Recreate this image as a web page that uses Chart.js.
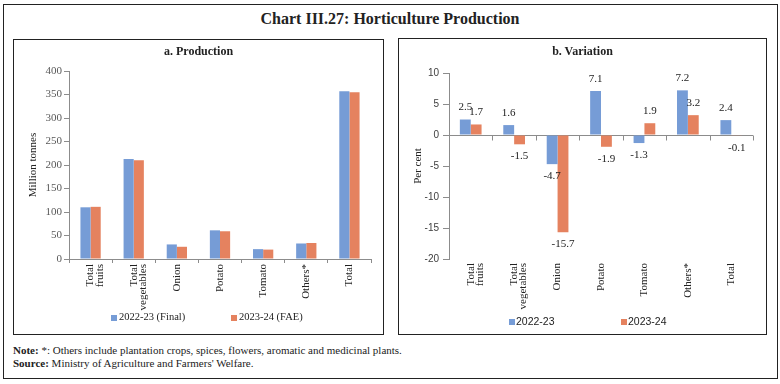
<!DOCTYPE html>
<html><head><meta charset="utf-8">
<script src="https://cdn.jsdelivr.net/npm/chart.js@4/dist/chart.umd.min.js"></script>
<style>
html,body{margin:0;padding:0;background:#fff;}
#wrap{position:relative;width:780px;height:384px;overflow:hidden;font-family:"Liberation Serif",serif;color:#222;}
.box{position:absolute;border:1px solid #222;box-sizing:border-box;}
.abs{position:absolute;white-space:nowrap;}
.sq{position:absolute;width:6px;height:6px;}
canvas{position:absolute;}
</style></head>
<body>
<div id="wrap">
  <div class="box" style="left:3px;top:4px;width:775px;height:375px;"></div>
  <div class="abs" style="left:0;width:780px;top:10px;text-align:center;font-weight:bold;font-size:16px;">Chart III.27: Horticulture Production</div>
  <div class="box" style="left:13px;top:39px;width:371px;height:296px;"></div>
  <div class="box" style="left:398px;top:38px;width:369px;height:297px;"></div>
  <canvas id="c1" width="371" height="296" style="left:13px;top:39px;"></canvas>
  <canvas id="c2" width="369" height="297" style="left:398px;top:38px;"></canvas>
  <div class="abs" style="left:13px;width:371px;top:44px;text-align:center;font-weight:bold;font-size:12px;">a. Production</div>
  <div class="abs" style="left:398px;width:369px;top:44px;text-align:center;font-weight:bold;font-size:12px;">b. Variation</div>

  <div class="sq" style="left:111px;top:315px;background:#769CD6;"></div>
  <div class="abs" style="left:119px;top:311px;font-size:10.5px;">2022-23 (Final)</div>
  <div class="sq" style="left:231px;top:315px;background:#E5825F;"></div>
  <div class="abs" style="left:239px;top:311px;font-size:10.5px;">2023-24 (FAE)</div>

  <div class="sq" style="left:509px;top:319px;background:#769CD6;"></div>
  <div class="abs" style="left:516px;top:315px;font-size:10.5px;font-family:'Liberation Sans',sans-serif;">2022-23</div>
  <div class="sq" style="left:621px;top:319px;background:#E5825F;"></div>
  <div class="abs" style="left:628px;top:315px;font-size:10.5px;font-family:'Liberation Sans',sans-serif;">2023-24</div>

  <div class="abs" style="left:13px;top:344px;font-size:11px;"><b>Note:</b> *: Others include plantation crops, spices, flowers, aromatic and medicinal plants.</div>
  <div class="abs" style="left:13px;top:357px;font-size:11px;"><b>Source:</b> Ministry of Agriculture and Farmers' Welfare.</div>
</div>
<script>
const categories = [['Total','fruits'],['Total','vegetables'],'Onion','Potato','Tomato','Others*','Total'];
const production2223 = [110, 213, 31, 61, 21, 33, 357];
const production2324 = [111, 210, 26, 59, 20, 34, 355];
const variation2223 = [2.5, 1.6, -4.7, 7.1, -1.3, 7.2, 2.4];
const variation2324 = [1.7, -1.5, -15.7, -1.9, 1.9, 3.2, -0.1];
const seriesNames = ['2022-23', '2023-24'];

const BLUE = '#769CD6', ORANGE = '#E5825F', AXIS = '#8c8c8c';
const serif = 'Liberation Serif';

const xTickFont = {family: serif, size: 11, lineHeight: 0.86};

new Chart(document.getElementById('c1'), {
  type: 'bar',
  data: {
    labels: categories,
    datasets: [
      {label: seriesNames[0] + ' (Final)', data: production2223, backgroundColor: BLUE},
      {label: seriesNames[1] + ' (FAE)', data: production2324, backgroundColor: ORANGE}
    ]
  },
  options: {
    responsive: false, animation: false,
    categoryPercentage: 0.47, barPercentage: 1,
    layout: {padding: {left: 0, top: 32, right: 13, bottom: 0}},
    plugins: {legend: {display: false}, tooltip: {enabled: false}},
    scales: {
      x: {
        border: {display: true, color: AXIS},
        grid: {drawOnChartArea: false, drawTicks: true, tickLength: 4, color: AXIS},
        ticks: {minRotation: 90, maxRotation: 90, autoSkip: false, padding: 1, color: '#222', font: xTickFont},
        afterFit: s => { s.height = 76; }
      },
      y: {
        min: 0, max: 400,
        border: {display: true, color: AXIS},
        grid: {drawOnChartArea: false, drawTicks: true, tickLength: 5, color: AXIS},
        ticks: {stepSize: 50, padding: 2, color: '#595959', font: {family: serif, size: 11}},
        title: {display: true, text: 'Million tonnes', color: '#222', font: {family: serif, size: 11}, padding: {top: 13.4, bottom: 0}},
        afterFit: s => { s.width = 56; }
      }
    }
  }
});

const zeroLine = {
  id: 'zeroLine',
  beforeDatasetsDraw(chart) {
    const x = chart.scales.x, y = chart.scales.y, ctx = chart.ctx;
    const y0 = Math.round(y.getPixelForValue(0)) + 0.5;
    ctx.save();
    ctx.strokeStyle = AXIS; ctx.lineWidth = 1;
    ctx.beginPath();
    ctx.moveTo(x.left, y0); ctx.lineTo(x.right, y0);
    const n = x.ticks.length;
    for (let i = 1; i <= n; i++) {
      const px = Math.round(i < n ? (x.getPixelForValue(i - 1) + x.getPixelForValue(i)) / 2 : x.right) + 0.5;
      ctx.moveTo(px, y0); ctx.lineTo(px, y0 + 5);
    }
    ctx.stroke();
    ctx.restore();
  }
};
const valueLabels = {
  id: 'valueLabels',
  afterDatasetsDraw(chart) {
    const ctx = chart.ctx;
    ctx.save();
    ctx.font = '11px "' + serif + '"';
    ctx.fillStyle = '#222';
    ctx.textAlign = 'center'; ctx.textBaseline = 'middle';
    chart.data.datasets.forEach((ds, di) => {
      chart.getDatasetMeta(di).data.forEach((el, i) => {
        const v = ds.data[i];
        const yy = v >= 0 ? el.y - 12 : el.y + 12;
        ctx.fillText(v.toFixed(1), el.x, yy);
      });
    });
    ctx.restore();
  }
};

new Chart(document.getElementById('c2'), {
  type: 'bar',
  data: {
    labels: categories,
    datasets: [
      {label: seriesNames[0], data: variation2223, backgroundColor: BLUE},
      {label: seriesNames[1], data: variation2324, backgroundColor: ORANGE}
    ]
  },
  plugins: [zeroLine, valueLabels],
  options: {
    responsive: false, animation: false,
    categoryPercentage: 0.5, barPercentage: 1,
    layout: {padding: {left: 0, top: 35, right: 14, bottom: 0}},
    plugins: {legend: {display: false}, tooltip: {enabled: false}},
    scales: {
      x: {
        border: {display: false},
        grid: {display: false, drawTicks: false},
        ticks: {minRotation: 90, maxRotation: 90, autoSkip: false, padding: 4, color: '#222', font: xTickFont},
        afterFit: s => { s.height = 76; }
      },
      y: {
        min: -20, max: 10,
        border: {display: true, color: AXIS},
        grid: {drawOnChartArea: false, drawTicks: true, tickLength: 6, color: AXIS},
        ticks: {stepSize: 5, padding: 4, color: '#404040', font: {family: 'Liberation Sans', size: 10}},
        title: {display: true, text: 'Per cent', color: '#222', font: {family: serif, size: 11}, padding: {top: 13.4, bottom: 0}},
        afterFit: s => { s.width = 51; }
      }
    }
  }
});
</script>
</body></html>
